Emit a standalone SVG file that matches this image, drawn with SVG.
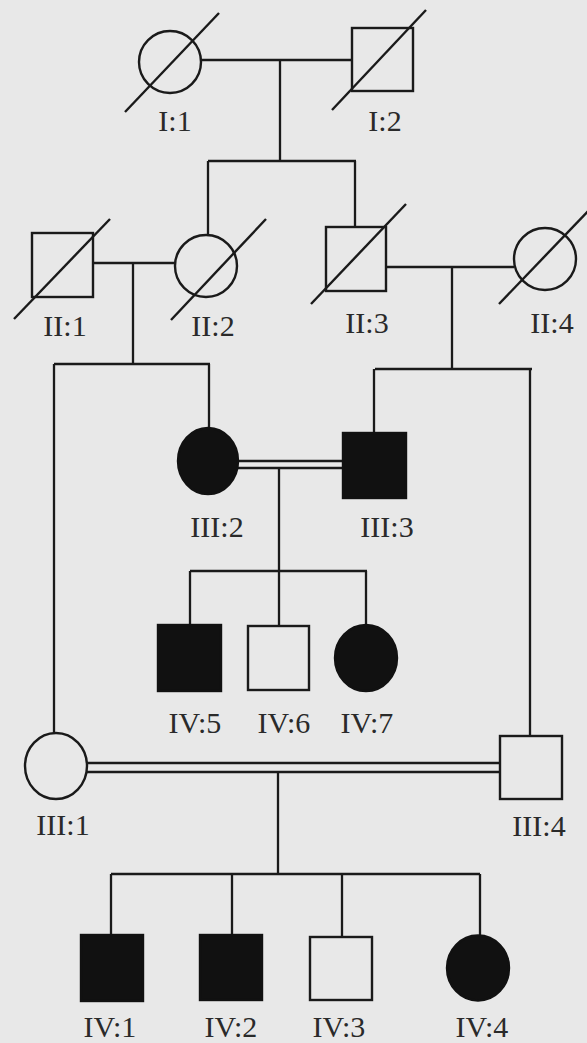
<svg xmlns="http://www.w3.org/2000/svg" width="587" height="1043" viewBox="0 0 587 1043">
<style>
.bg{fill:#e8e8e8}
.open{fill:none;stroke:#1a1a1a;stroke-width:2.4}
.aff{fill:#111;stroke:#111;stroke-width:2.4}
.ln{fill:none;stroke:#1a1a1a;stroke-width:2.3}
.dec{stroke:#1a1a1a;stroke-width:2.4}
.lbl{font-family:"Liberation Serif","Times New Roman",serif;font-size:30px;fill:#2a2a2a;text-anchor:middle}
</style>
<rect class="bg" x="0" y="0" width="587" height="1043"/>
<g id="connectors">
<path class="ln" d="M200 60H352M280 60V161M208 161H356M208 161V234M355 161V227"/>
<path class="ln" d="M93 263H176M133 263V364M54 364H210M54 364V733M209 364V428"/>
<path class="ln" d="M386 267H514M452 267V369M375 369H532M374 369V433M530 369V736"/>
<path class="ln" d="M238 461H343M238 468H343M279 468V571M190 571H367M190 571V625M279 571V626M366 571V625"/>
<path class="ln" d="M87 763H500M87 772H500M278 772V874M111 874H480M111 874V935M232 874V935M342 874V937M480 874V936"/>
</g>
<g id="I1"><circle class="open" cx="170" cy="62" r="31"/><line class="dec" x1="125" y1="112" x2="219" y2="13"/><text class="lbl" x="175" y="131">I:1</text></g>
<g id="I2"><rect class="open" x="352" y="28" width="61" height="63"/><line class="dec" x1="332" y1="110" x2="426" y2="10"/><text class="lbl" x="385" y="131">I:2</text></g>
<g id="II1"><rect class="open" x="32" y="233" width="61" height="64"/><line class="dec" x1="14" y1="319" x2="110" y2="219"/><text class="lbl" x="65" y="336">II:1</text></g>
<g id="II2"><circle class="open" cx="206" cy="266" r="31"/><line class="dec" x1="171" y1="320" x2="266" y2="219"/><text class="lbl" x="213" y="336">II:2</text></g>
<g id="II3"><rect class="open" x="326" y="227" width="60" height="64"/><line class="dec" x1="311" y1="304" x2="406" y2="204"/><text class="lbl" x="367" y="333">II:3</text></g>
<g id="II4"><circle class="open" cx="545" cy="259" r="31"/><line class="dec" x1="499" y1="304" x2="592" y2="207"/><text class="lbl" x="552" y="333">II:4</text></g>
<g id="III1"><ellipse class="open" cx="56" cy="766" rx="31" ry="33"/><text class="lbl" x="63" y="835">III:1</text></g>
<g id="III2"><ellipse class="aff" cx="208" cy="461" rx="30" ry="33"/><text class="lbl" x="217" y="537">III:2</text></g>
<g id="III3"><rect class="aff" x="343" y="433" width="63" height="65"/><text class="lbl" x="387" y="537">III:3</text></g>
<g id="III4"><rect class="open" x="500" y="736" width="62" height="63"/><text class="lbl" x="539" y="836">III:4</text></g>
<g id="IV5"><rect class="aff" x="158" y="625" width="63" height="66"/><text class="lbl" x="195" y="733">IV:5</text></g>
<g id="IV6"><rect class="open" x="248" y="626" width="61" height="64"/><text class="lbl" x="284" y="733">IV:6</text></g>
<g id="IV7"><ellipse class="aff" cx="366" cy="658" rx="31" ry="33"/><text class="lbl" x="367" y="733">IV:7</text></g>
<g id="IV1"><rect class="aff" x="81" y="935" width="62" height="66"/><text class="lbl" x="110" y="1037">IV:1</text></g>
<g id="IV2"><rect class="aff" x="200" y="935" width="62" height="65"/><text class="lbl" x="231" y="1037">IV:2</text></g>
<g id="IV3"><rect class="open" x="310" y="937" width="62" height="63"/><text class="lbl" x="339" y="1037">IV:3</text></g>
<g id="IV4"><ellipse class="aff" cx="478" cy="968" rx="31" ry="32.5"/><text class="lbl" x="482" y="1037">IV:4</text></g>
</svg>
